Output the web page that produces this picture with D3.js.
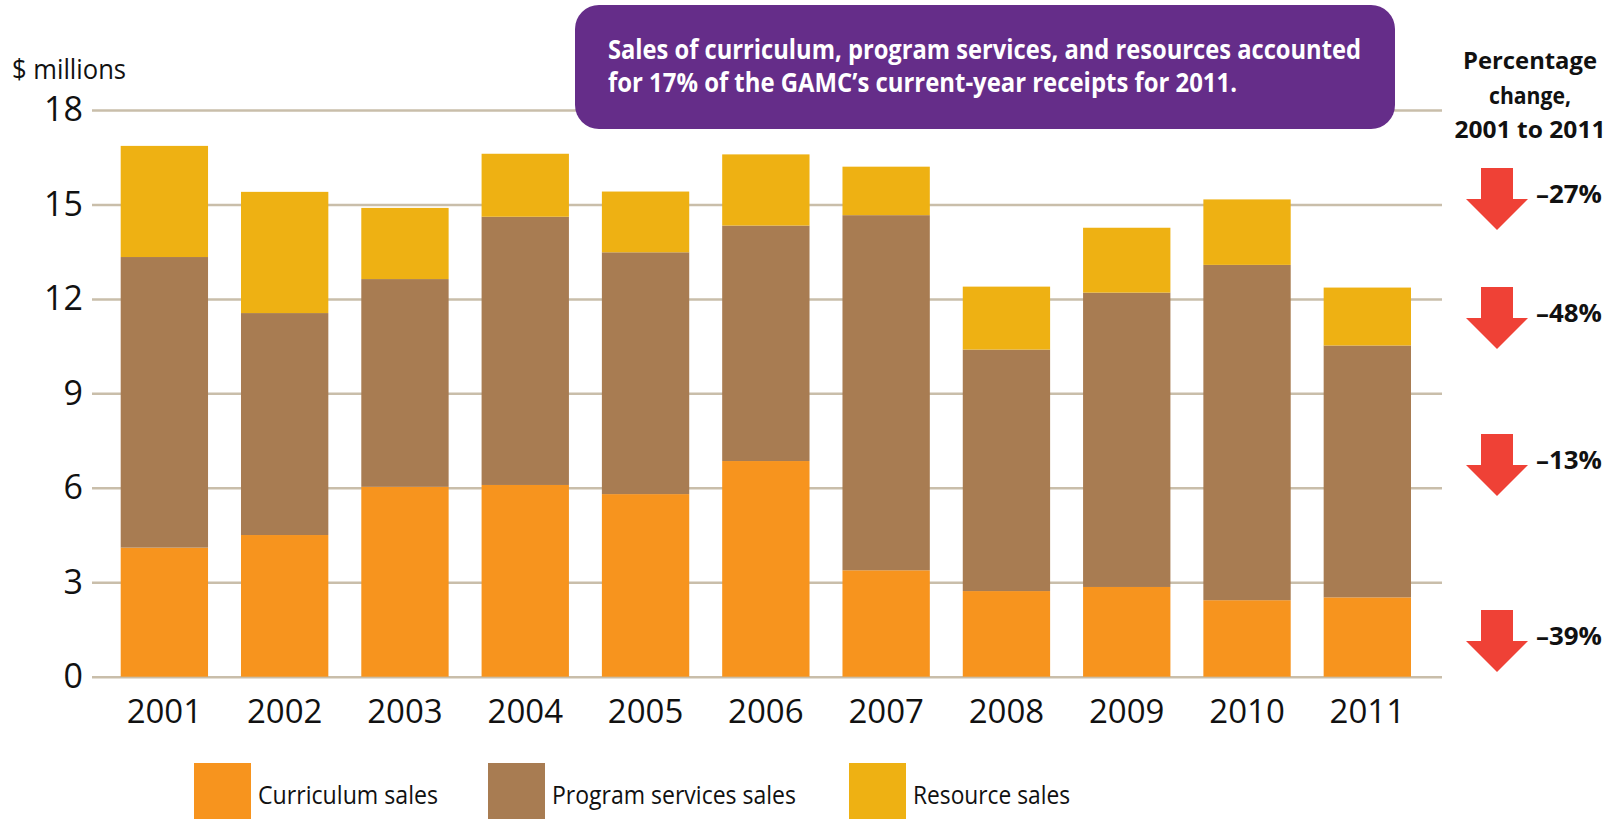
<!DOCTYPE html>
<html>
<head>
<meta charset="utf-8">
<script src="https://cdn.jsdelivr.net/npm/d3@7"></script>
<style>
  html, body { margin: 0; padding: 0; background: #fff; }
  svg { display: block; font-family: "Open Sans", "Noto Sans", "DejaVu Sans", sans-serif; }
</style>
</head>
<body>
<svg id="chart" width="1617" height="819"></svg>
<script>
// ---- data ----
const years = ["2001","2002","2003","2004","2005","2006","2007","2008","2009","2010","2011"];
const curriculum = [4.10, 4.50, 6.03, 6.09, 5.80, 6.85, 3.38, 2.72, 2.85, 2.43, 2.52];
const programServices = [9.23, 7.05, 6.60, 8.52, 7.68, 7.48, 11.28, 7.67, 9.35, 10.65, 8.00];
const resources = [3.53, 3.85, 2.26, 2.00, 1.93, 2.26, 1.54, 2.00, 2.06, 2.08, 1.84];
const seriesNames = ["Curriculum sales", "Program services sales", "Resource sales"];
const seriesColors = ["#F7941E", "#A87C52", "#EEB113"];
const yTicks = [0, 3, 6, 9, 12, 15, 18];
const pctHeader = ["Percentage", "change,", "2001 to 2011"];
const pctLabels = ["\u201327%", "\u201348%", "\u201313%", "\u201339%"];
const calloutLines = [
  "Sales of curriculum, program services, and resources accounted",
  "for 17% of the GAMC\u2019s current-year receipts for 2011."
];
const yUnitLabel = "$ millions";

// ---- layout ----
const FONT = '"Open Sans", "Noto Sans", "DejaVu Sans", sans-serif';
const svg = d3.select("#chart");
const plotLeft = 92, gridRight = 1442;
const x = d3.scaleBand().domain(years).range([120.7, 1411]).paddingInner(0.274).paddingOuter(0);
const y = d3.scaleLinear().domain([0, 18]).range([676.7, 110]);

const rows = years.map((yr, i) => ({
  year: yr, curriculum: curriculum[i], program: programServices[i], resource: resources[i]
}));
const keys = ["curriculum", "program", "resource"];
const stacked = d3.stack().keys(keys)(rows);

// gridlines + y axis labels
const yAxis = d3.axisLeft(y).tickValues(yTicks).tickSize(-(gridRight - plotLeft)).tickPadding(9).tickFormat(d3.format("d"));
const gy = svg.append("g").attr("transform", `translate(${plotLeft},0)`).call(yAxis)
  .attr("font-family", FONT).attr("font-size", 34);
gy.select(".domain").remove();
gy.selectAll(".tick line").attr("stroke", "#C9BEAA").attr("stroke-width", 2.5);
gy.selectAll(".tick text").attr("fill", "#111");

// bars
svg.append("g").selectAll("g").data(stacked).join("g")
  .attr("fill", (d, i) => seriesColors[i])
  .selectAll("rect").data(d => d).join("rect")
  .attr("x", d => x(d.data.year))
  .attr("width", x.bandwidth())
  .attr("y", d => y(d[1]))
  .attr("height", d => y(d[0]) - y(d[1]));

// x axis labels
const xAxis = d3.axisBottom(x).tickSize(0).tickPadding(23);
const gx = svg.append("g").attr("transform", `translate(0,${y(0)})`).call(xAxis)
  .attr("font-family", FONT).attr("font-size", 33);
gx.select(".domain").remove();
gx.selectAll(".tick text").attr("fill", "#111");

// unit label
svg.append("text").attr("x", 12).attr("y", 79).attr("font-size", 28).attr("fill", "#111")
  .attr("textLength", 114).attr("lengthAdjust", "spacingAndGlyphs").text(yUnitLabel);

// callout box
svg.append("rect").attr("x", 575).attr("y", 5).attr("width", 820).attr("height", 124)
  .attr("rx", 24).attr("ry", 24).attr("fill", "#652D89");
svg.append("g").selectAll("text").data(calloutLines).join("text")
  .attr("x", 608).attr("y", (d, i) => 59 + i * 33)
  .attr("font-size", 26).attr("font-weight", "bold").attr("fill", "#fff")
  .attr("textLength", (d, i) => i === 0 ? 753 : 629)
  .attr("lengthAdjust", "spacingAndGlyphs")
  .text(d => d);

// right header
const headerWidths = [134, 82, 151];
svg.append("g").selectAll("text").data(pctHeader).join("text")
  .attr("x", 1530).attr("y", (d, i) => 69 + i * 34.5)
  .attr("text-anchor", "middle").attr("font-size", 24).attr("font-weight", "bold").attr("fill", "#111")
  .attr("textLength", (d, i) => headerWidths[i]).attr("lengthAdjust", "spacingAndGlyphs")
  .text(d => d);

// arrows + percentage labels
const arrowTops = [168, 287, 434, 610];
const arrowPath = "M-16,0 L16,0 L16,31 L31,31 L0,62 L-31,31 L-16,31 Z";
const ag = svg.append("g").selectAll("g").data(pctLabels).join("g")
  .attr("transform", (d, i) => `translate(1497,${arrowTops[i]})`);
ag.append("path").attr("d", arrowPath).attr("fill", "#EF4136");
ag.append("text").attr("x", 39).attr("y", 35).attr("font-size", 25).attr("font-weight", "bold").attr("fill", "#111")
  .attr("textLength", 66).attr("lengthAdjust", "spacingAndGlyphs").text(d => d);

// legend
const legendX = [194, 488, 849];
const legendW = [180, 244, 157];
const lg = svg.append("g").selectAll("g").data(seriesNames).join("g")
  .attr("transform", (d, i) => `translate(${legendX[i]},763)`);
lg.append("rect").attr("width", 57).attr("height", 56).attr("fill", (d, i) => seriesColors[i]);
lg.append("text").attr("x", 64).attr("y", 41).attr("font-size", 26).attr("fill", "#111")
  .attr("textLength", (d, i) => legendW[i]).attr("lengthAdjust", "spacingAndGlyphs")
  .text(d => d);
</script>
</body>
</html>
